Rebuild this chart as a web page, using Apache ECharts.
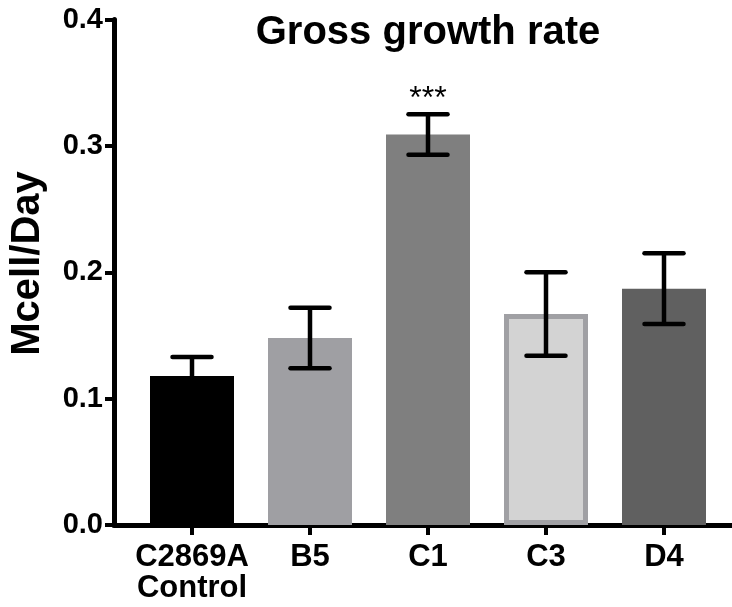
<!DOCTYPE html>
<html>
<head>
<meta charset="utf-8">
<script src="https://cdn.jsdelivr.net/npm/echarts@6/dist/echarts.min.js"></script>
<style>
  html, body { margin: 0; padding: 0; background: #ffffff; }
  #chart { width: 732px; height: 607px; }
</style>
</head>
<body>
<div id="chart"></div>
<script>
// ---- data ----
const categories = ['C2869A\nControl', 'B5', 'C1', 'C3', 'D4'];
const means      = [0.118, 0.148, 0.309, 0.167, 0.187];
const errLow     = [0.103, 0.124, 0.293, 0.134, 0.159];
const errHigh    = [0.133, 0.172, 0.325, 0.200, 0.215];
const sigLabels  = ['', '', '***', '', ''];
const yTicks     = [0.0, 0.1, 0.2, 0.3, 0.4];
const titleText  = 'Gross growth rate';
const yAxisTitle = 'Mcell/Day';

// ---- styles ----
const barFill   = ['#000000', '#9f9fa3', '#7f7f7f', '#d3d3d3', '#606060'];
const barBorder = [null, null, null, '#a0a0a4', null];
const FONT = '"Liberation Sans", Arial, Helvetica, sans-serif';

const chart = echarts.init(document.getElementById('chart'));

const barData = means.map((v, i) => ({
  value: v,
  itemStyle: barBorder[i]
    ? { color: barFill[i], borderColor: barBorder[i], borderWidth: 5 }
    : { color: barFill[i] }
}));

const errData = means.map((v, i) => [i, errLow[i], errHigh[i], sigLabels[i]]);

const option = {
  backgroundColor: '#ffffff',
  animation: false,
  title: {
    text: titleText,
    left: 428,
    top: 13,
    textAlign: 'center',
    padding: 0,
    textStyle: { fontFamily: FONT, fontSize: 40, fontWeight: 'bold', color: '#000', lineHeight: 40 }
  },
  grid: [
    { left: 133, width: 590, top: 19.5, height: 505.5 },
    { left: 114, right: 0, top: 19.5, height: 505.5 }
  ],
  xAxis: [
    {
      type: 'category', gridIndex: 0, data: categories,
      axisLine: { show: false },
      axisTick: { show: true, alignWithLabel: true, length: 10, lineStyle: { color: '#000', width: 4 } },
      axisLabel: { fontFamily: FONT, fontSize: 31, fontWeight: 'bold', color: '#000', margin: 17, lineHeight: 31, interval: 0 },
      splitLine: { show: false }
    },
    {
      type: 'value', gridIndex: 1, min: 0, max: 1,
      axisLine: { show: true, lineStyle: { color: '#000', width: 5 } },
      axisTick: { show: false }, axisLabel: { show: false }, splitLine: { show: false }
    }
  ],
  yAxis: [
    { type: 'value', gridIndex: 0, min: yTicks[0], max: yTicks[yTicks.length - 1], show: false, splitLine: { show: false } },
    {
      type: 'value', gridIndex: 1, min: yTicks[0], max: yTicks[yTicks.length - 1], interval: 0.1,
      axisLine: { show: true, lineStyle: { color: '#000', width: 5 } },
      axisTick: { show: true, length: 9, lineStyle: { color: '#000', width: 4 } },
      axisLabel: { fontFamily: FONT, fontSize: 29, fontWeight: 'bold', color: '#000', margin: 11,
                   formatter: v => v.toFixed(1) },
      splitLine: { show: false }
    }
  ],
  graphic: [
    {
      type: 'text', x: 28, y: 263.5, rotation: Math.PI / 2,
      style: { text: yAxisTitle, x: 0, y: 0, align: 'center', verticalAlign: 'middle',
               font: 'bold 40px ' + FONT, fill: '#000' }
    }
  ],
  series: [
    {
      type: 'bar', xAxisIndex: 0, yAxisIndex: 0, barWidth: 84, data: barData, z: 2
    },
    {
      type: 'custom', xAxisIndex: 0, yAxisIndex: 0, z: 5, data: errData,
      renderItem: function (params, api) {
        const i = api.value(0);
        const lo = api.coord([i, api.value(1)]);
        const hi = api.coord([i, api.value(2)]);
        const x = hi[0];
        const half = 19.5;
        const ls = { stroke: '#000', lineWidth: 4.5, lineCap: 'round' };
        const children = [
          { type: 'line', shape: { x1: x, y1: lo[1], x2: x, y2: hi[1] }, style: { stroke: '#000', lineWidth: 4.5 } },
          { type: 'line', shape: { x1: x - half, y1: hi[1], x2: x + half, y2: hi[1] }, style: ls },
          { type: 'line', shape: { x1: x - half, y1: lo[1], x2: x + half, y2: lo[1] }, style: ls }
        ];
        const sig = sigLabels[params.dataIndex];
        if (sig) {
          children.push({
            type: 'text',
            style: { text: sig, x: x, y: hi[1] + 1, align: 'center', verticalAlign: 'bottom',
                     font: '32px ' + FONT, fill: '#000' }
          });
        }
        return { type: 'group', children: children };
      }
    }
  ]
};

chart.setOption(option);
</script>
</body>
</html>
